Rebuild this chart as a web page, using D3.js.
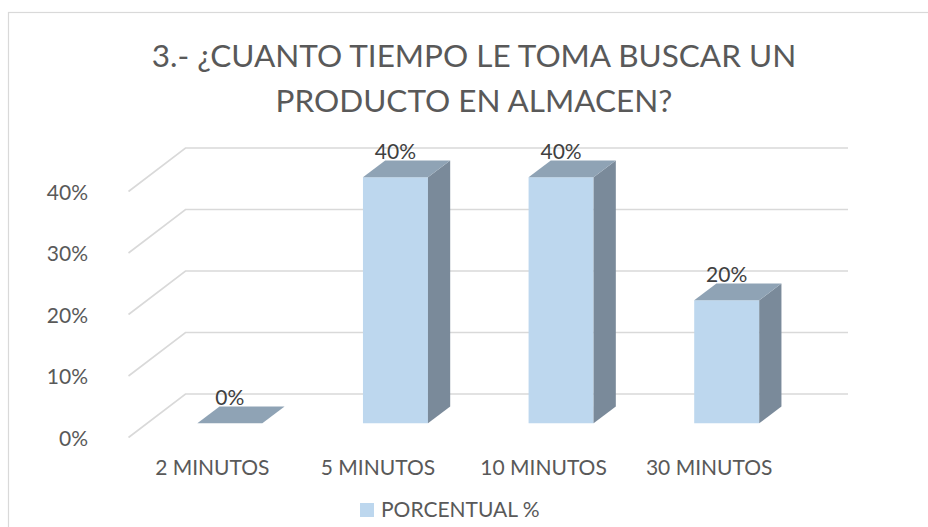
<!DOCTYPE html>
<html>
<head>
<meta charset="utf-8">
<script src="https://cdn.jsdelivr.net/npm/d3@7"></script>
<style>
  html, body { margin: 0; padding: 0; background: #fff; }
  svg { display: block; font-family: Lato, "Open Sans", sans-serif; }
</style>
</head>
<body>
<svg id="chart" width="928" height="527"></svg>
<script>
// ---- data ----
const titleLines = ["3.- ¿CUANTO TIEMPO LE TOMA BUSCAR UN", "PRODUCTO EN ALMACEN?"];
const categories = ["2 MINUTOS", "5 MINUTOS", "10 MINUTOS", "30 MINUTOS"];
const values = [0, 0.40, 0.40, 0.20];
const yTicks = [0, 0.10, 0.20, 0.30, 0.40];
const seriesName = "PORCENTUAL %";

// ---- layout ----
const svg = d3.select("#chart");
const textColor = "#595959";
const gridColor = "#d9d9d9";
const frontColor = "#bdd7ee", topColor = "#8fa3b5", sideColor = "#7a8a9a";

const depthX = 57, depthY = -43.5;           // oblique depth vector (floor depth)
const x = d3.scaleBand().domain(categories).range([128.5, 791]).padding(0);
const y = d3.scaleLinear().domain([0, 0.40]).range([437.5, 191.5]);
const fmt = d3.format(".0%");
const proj = (px, v, z) => [px + z * depthX, y(v) + z * depthY];

// chart border
svg.append("rect").attr("x", 8.5).attr("y", 12.5).attr("width", 960).attr("height", 560)
  .attr("fill", "#fff").attr("stroke", gridColor).attr("stroke-width", 1.2);

// title
svg.append("g").selectAll("text").data(titleLines).join("text")
  .attr("x", 474).attr("y", (d, i) => 67 + i * 45)
  .attr("text-anchor", "middle").attr("fill", textColor)
  .attr("font-size", 31.5).attr("font-weight", 400)
  .text(d => d);

// gridlines: back wall + left wall
const grid = svg.append("g").attr("stroke", gridColor).attr("stroke-width", 1.6).attr("fill", "none");
grid.selectAll("path").data(yTicks).join("path")
  .attr("d", v => {
    const a = proj(x.range()[0], v, 0), b = proj(x.range()[0], v, 1), c = proj(x.range()[1], v, 1);
    return d3.line()([a, b, c]);
  });

// y axis labels
const yAxis = svg.append("g").attr("transform", "translate(88,1)")
  .call(d3.axisLeft(y).tickValues(yTicks).tickFormat(fmt).tickSize(0).tickPadding(0));
yAxis.select(".domain").remove();
yAxis.selectAll("text").attr("fill", textColor).attr("font-size", 21).attr("font-family", "Lato, 'Open Sans', sans-serif");

// x axis labels
const xAxis = svg.append("g").attr("transform", "translate(1,460)")
  .call(d3.axisBottom(x).tickSize(0).tickPadding(0));
xAxis.select(".domain").remove();
xAxis.selectAll("text").attr("fill", textColor).attr("font-size", 21).attr("font-family", "Lato, 'Open Sans', sans-serif");

// bars (3D)
const z0 = 0.325, z1 = 0.715, barFrac = 0.3925;
const bars = svg.append("g");
categories.forEach((c, i) => {
  const v = values[i];
  const bw = x.bandwidth() * barFrac;
  const xl = x(c) + (x.bandwidth() - bw) / 2, xr = xl + bw;
  const g = bars.append("g");
  const line = d3.line();
  if (v > 0) {
    // front face
    g.append("path").attr("fill", frontColor)
      .attr("d", line([proj(xl, 0, z0), proj(xr, 0, z0), proj(xr, v, z0), proj(xl, v, z0)]) + "Z");
    // side face
    g.append("path").attr("fill", sideColor)
      .attr("d", line([proj(xr, 0, z0), proj(xr, 0, z1), proj(xr, v, z1), proj(xr, v, z0)]) + "Z");
  }
  // top face
  g.append("path").attr("fill", topColor)
    .attr("d", line([proj(xl, v, z0), proj(xr, v, z0), proj(xr, v, z1), proj(xl, v, z1)]) + "Z");
  // data label
  const [lx] = proj((xl + xr) / 2, v, z0);
  const [, ly] = proj(xl, v, z1);
  g.append("text").attr("x", lx).attr("y", ly - 1.5)
    .attr("text-anchor", "middle").attr("fill", "#404040").attr("font-size", 21)
    .text(fmt(v));
});

// legend
const lg = svg.append("g").attr("transform", "translate(360,503)");
lg.append("rect").attr("width", 14).attr("height", 14).attr("fill", frontColor);
lg.append("text").attr("x", 21).attr("y", 14).attr("fill", textColor).attr("font-size", 21).text(seriesName);
</script>
</body>
</html>
